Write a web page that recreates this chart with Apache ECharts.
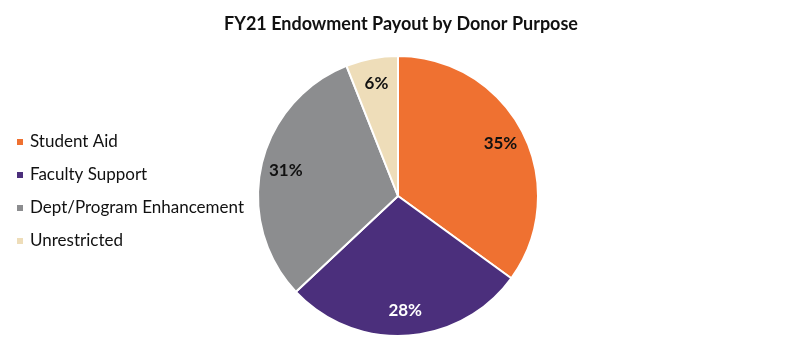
<!DOCTYPE html>
<html><head><meta charset="utf-8">
<script src="https://cdn.jsdelivr.net/npm/echarts@6/dist/echarts.min.js"></script>
<style>html,body{margin:0;padding:0;background:#fff}#c{width:800px;height:348px}</style>
</head><body><div id="c"></div>
<script>
const categories = ['Student Aid', 'Faculty Support', 'Dept/Program Enhancement', 'Unrestricted'];
const values = [35, 28, 31, 6];
const colors = ['#EF7131', '#4B2F7C', '#8C8D8F', '#EEDDB9'];
const labelColors = ['#111', '#fff', '#111', '#111'];

const chart = echarts.init(document.getElementById('c'));
const font = 'Lato, "Open Sans", sans-serif';
const pieData = categories.map((n, i) => ({ name: n, value: values[i], itemStyle: { color: colors[i] } }));
const labelData = categories.map((n, i) => ({ name: n, value: values[i], label: { color: labelColors[i] } }));
chart.setOption({
  animation: false,
  title: { text: 'FY21 Endowment Payout by Donor Purpose', left: 396, textAlign: 'center', top: 10,
    textStyle: { fontFamily: font, fontWeight: 'bold', fontSize: 18, color: '#111' } },
  legend: { orient: 'vertical', left: 10, top: 128, itemWidth: 8, itemHeight: 8, itemGap: 15, icon: 'rect',
    textStyle: { fontFamily: font, fontSize: 17, color: '#111', lineHeight: 18, padding: [0,0,0,1] },
    data: categories },
  series: [
    { type: 'pie', center: [398, 196], radius: [0, 140], startAngle: 90, clockwise: true,
      data: pieData, label: { show: false }, labelLine: { show: false },
      itemStyle: { borderColor: '#fff', borderWidth: 2 }, emphasis: { disabled: true } },
    { type: 'pie', center: [398, 196], radius: [84, 140], startAngle: 90, clockwise: true, silent: true,
      data: labelData, itemStyle: { color: 'transparent' }, labelLine: { show: false },
      label: { show: true, position: 'inside', formatter: '{c}%', fontFamily: font, fontWeight: 'bold', fontSize: 17 },
      emphasis: { disabled: true } }
  ]
});
</script></body></html>
